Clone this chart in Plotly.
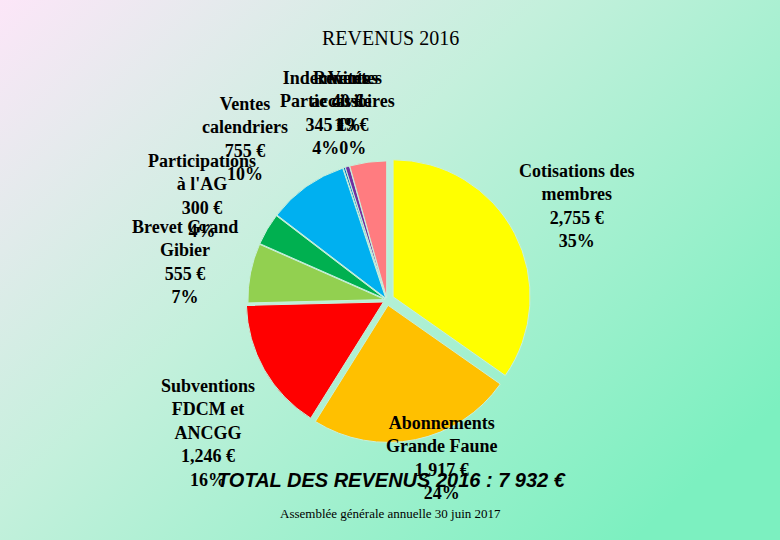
import base64
import plotly.graph_objects as go

# ---- data ----
categories = [
    "Cotisations des<br>membres",
    "Abonnements<br>Grande Faune",
    "Subventions<br>FDCM et<br>ANCGG",
    "Brevet Grand<br>Gibier",
    "Participations<br>à l'AG",
    "Ventes<br>calendriers",
    "Ventes<br>accessoires",
    "Reventes",
    "Indemnités<br>Partie civile",
]
values = [2755, 1917, 1246, 555, 300, 755, 19, 40, 345]
colors = ["#FFFF00", "#FFC000", "#FF0000", "#92D050", "#00B050",
          "#00B0F0", "#0070C0", "#7030A0", "#FF7C80"]
pulls = [0.05, 0.04, 0.03, 0.015, 0.015, 0.015, 0.015, 0.015, 0.015]

# label placement (paper coords, block centres)
label_x = [0.740, 0.567, 0.267, 0.237, 0.259, 0.314, 0.452, 0.445, 0.417]
label_y = [0.618, 0.152, 0.198, 0.515, 0.637, 0.743, 0.791, 0.812, 0.791]

title_text = "REVENUS 2016"
subtitle_text = "Assemblée générale annuelle 30 juin 2017"

total = sum(values)

svg = """<svg xmlns='http://www.w3.org/2000/svg' width='780' height='540' preserveAspectRatio='none'>
<defs><linearGradient id='g' x1='0' y1='0' x2='1' y2='0.75'>
<stop offset='0' stop-color='#FCE6F8'/>
<stop offset='0.45' stop-color='#C4F0DC'/>
<stop offset='1' stop-color='#7CF0C0'/>
</linearGradient></defs>
<rect width='780' height='540' fill='url(#g)'/></svg>"""
bg_src = "data:image/svg+xml;base64," + base64.b64encode(svg.encode()).decode()

fig = go.Figure()
fig.add_trace(go.Pie(
    labels=categories,
    values=values,
    sort=False,
    direction="clockwise",
    rotation=0,
    pull=pulls,
    marker=dict(colors=colors, line=dict(color="#C8F0DC", width=1)),
    textinfo="none",
    hoverinfo="label+value+percent",
    showlegend=False,
    domain=dict(x=[0.3115, 0.6808], y=[0.178, 0.711]),
))

annotations = []
for lab, v, x, y in zip(categories, values, label_x, label_y):
    pct = round(v / total * 100)
    txt = f"<b>{lab}<br>{v:,} €<br>{pct}%</b>"
    annotations.append(dict(
        x=x, y=y, xref="paper", yref="paper", xanchor="center", yanchor="middle",
        text=txt, showarrow=False, align="center",
        font=dict(family="Liberation Serif", size=18, color="#000000"),
    ))

annotations.append(dict(
    x=0.5, y=1 - 38 / 540, xref="paper", yref="paper", xanchor="center", yanchor="middle",
    text=title_text, showarrow=False,
    font=dict(family="Liberation Serif", size=20, color="#000000"),
))
total_str = f"{total:,}".replace(",", " ")
annotations.append(dict(
    x=391 / 780, y=1 - 480 / 540, xref="paper", yref="paper", xanchor="center", yanchor="middle",
    text=f"<b><i>TOTAL DES REVENUS 2016 : {total_str} €</i></b>", showarrow=False,
    font=dict(family="Liberation Sans", size=20, color="#000000"),
))
annotations.append(dict(
    x=390 / 780, y=1 - 513 / 540, xref="paper", yref="paper", xanchor="center", yanchor="middle",
    text=subtitle_text, showarrow=False,
    font=dict(family="Liberation Serif", size=13, color="#000000"),
))

fig.update_layout(
    width=780, height=540,
    margin=dict(l=0, r=0, t=0, b=0),
    paper_bgcolor="#C4F0DC",
    plot_bgcolor="rgba(0,0,0,0)",
    images=[dict(source=bg_src, xref="paper", yref="paper", x=0, y=1,
                 sizex=1, sizey=1, sizing="stretch", layer="below",
                 xanchor="left", yanchor="top")],
    annotations=annotations,
)

fig.write_html("out.html",
               config={"displayModeBar": False},
               post_script="document.body.style.margin='0';document.body.style.overflow='hidden';")
